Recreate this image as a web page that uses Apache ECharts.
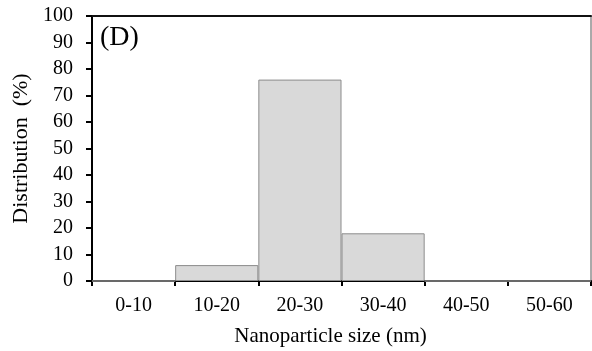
<!DOCTYPE html>
<html>
<head>
<meta charset="utf-8">
<script src="https://cdn.jsdelivr.net/npm/echarts@6/dist/echarts.min.js"></script>
<style>
  html, body { margin: 0; padding: 0; background: #fff; }
  #chart { width: 592px; height: 351px; }
</style>
</head>
<body>
<div id="chart"></div>
<script type="text/javascript">
// size classes and share of particles (%)
var sizeBins = ['0-10', '10-20', '20-30', '30-40', '40-50', '50-60'];
var distribution = [0, 6, 76, 18, 0, 0];
var yTicks = { min: 0, max: 100, step: 10 };

var font = 'Liberation Serif';
var chart = echarts.init(document.getElementById('chart'));

var option = {
    animation: false,
    grid: {
        left: 92, right: 1, top: 16, bottom: 70,
        outerBoundsMode: 'none',
        containLabel: false,
        show: true, borderColor: '#555', borderWidth: 1
    },
    graphic: [{
        type: 'text', left: 100, top: 24,
        style: { text: '(D)', font: '28px "Liberation Serif"', fill: '#000' }
    }],
    xAxis: [{
        type: 'category',
        data: sizeBins,
        name: 'Nanoparticle size (nm)',
        nameLocation: 'middle',
        nameGap: 45,
        nameTextStyle: { fontFamily: font, fontSize: 21, color: '#000', padding: [0, 22, 0, 0] },
        axisLine: { lineStyle: { color: '#000', width: 2 } },
        axisTick: { show: true, length: 5, lineStyle: { color: '#000', width: 2 } },
        axisLabel: { fontFamily: font, fontSize: 20, color: '#000', margin: 15 }
    }, {
        type: 'category',
        position: 'top',
        data: sizeBins,
        axisLine: { lineStyle: { color: '#111', width: 2 } },
        axisTick: { show: false },
        axisLabel: { show: false }
    }],
    yAxis: {
        type: 'value',
        min: yTicks.min, max: yTicks.max, interval: yTicks.step,
        name: 'Distribution  (%)',
        nameLocation: 'middle',
        nameGap: 56,
        nameTextStyle: { fontFamily: font, fontSize: 22, color: '#000' },
        axisLine: { show: true, lineStyle: { color: '#000', width: 2 } },
        axisTick: { show: true, length: 6, lineStyle: { color: '#000', width: 2 } },
        axisLabel: { fontFamily: font, fontSize: 20, color: '#000', margin: 19 },
        splitLine: { show: false }
    },
    series: [{
        type: 'bar',
        data: distribution,
        barCategoryGap: '0%',
        itemStyle: { color: '#d9d9d9', borderColor: '#8c8c8c', borderWidth: 1 }
    }]
};
chart.setOption(option);
</script>
</body>
</html>
